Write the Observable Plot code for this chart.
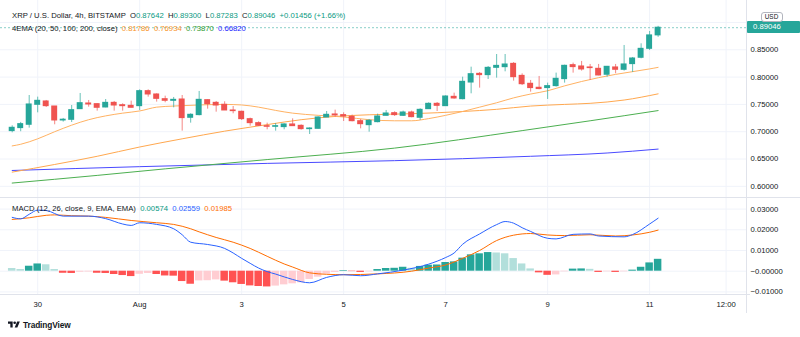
<!DOCTYPE html>
<html><head><meta charset="utf-8">
<script src="https://cdn.jsdelivr.net/npm/d3@7"></script>
<script src="https://cdn.jsdelivr.net/npm/@observablehq/plot@0.6"></script>
<style>
body{margin:0;background:#fff;font-family:"Liberation Sans",Arial,sans-serif;}
#wrap{position:relative;width:800px;height:337px;overflow:hidden;background:#fff;}
.abs{position:absolute;}
.leg{position:absolute;left:12px;font-size:7.7px;color:#131722;white-space:pre;line-height:1;}
.line{position:absolute;background:#e0e3eb;}
</style></head><body><div id="wrap"></div>
<script>
// ---------- data ----------
const candleStart = "2021-07-29T12:00Z"; // 4h candles
const open  = [0.7011,0.7066,0.7127,0.7493,0.7554,0.7462,0.7206,0.7218,0.7413,0.7517,0.7505,0.7444,0.7529,0.7486,0.7474,0.7468,0.7743,0.7682,0.7596,0.7566,0.7590,0.7255,0.7304,0.7578,0.7529,0.7493,0.7389,0.7365,0.7230,0.7157,0.7102,0.7090,0.7084,0.7133,0.7108,0.7047,0.7053,0.7261,0.7316,0.7304,0.7273,0.7193,0.7120,0.7175,0.7291,0.7340,0.7291,0.7352,0.7255,0.7413,0.7511,0.7468,0.7639,0.7596,0.7901,0.8060,0.8036,0.8170,0.8182,0.8243,0.8023,0.7878,0.7805,0.7799,0.7835,0.7963,0.8219,0.8195,0.8177,0.8152,0.8043,0.8177,0.8134,0.8238,0.8354,0.8518,0.87642];
const high  = [0.7108,0.7170,0.7663,0.7633,0.7572,0.7462,0.7243,0.7480,0.7700,0.7572,0.7511,0.7590,0.7554,0.7511,0.7560,0.7767,0.7767,0.7694,0.7651,0.7627,0.7663,0.7328,0.7737,0.7584,0.7554,0.7548,0.7462,0.7377,0.7249,0.7182,0.7157,0.7150,0.7145,0.7236,0.7126,0.7071,0.7273,0.7370,0.7395,0.7346,0.7304,0.7224,0.7224,0.7322,0.7389,0.7365,0.7377,0.7377,0.7420,0.7529,0.7535,0.7657,0.7706,0.7999,0.8182,0.8084,0.8194,0.8414,0.8414,0.8267,0.8060,0.7939,0.8012,0.7890,0.8073,0.8219,0.8256,0.8287,0.8232,0.8232,0.8195,0.8232,0.8579,0.8360,0.8610,0.8836,0.89300];
const low   = [0.6980,0.7000,0.7066,0.7346,0.7444,0.7127,0.7176,0.7169,0.7407,0.7450,0.7377,0.7438,0.7377,0.7377,0.7438,0.7389,0.7633,0.7542,0.7530,0.7438,0.7011,0.7157,0.7291,0.7413,0.7358,0.7389,0.7328,0.7206,0.7102,0.7096,0.7035,0.7010,0.7035,0.7102,0.7029,0.6949,0.7047,0.7261,0.7267,0.7187,0.7181,0.7053,0.6992,0.7163,0.7291,0.7279,0.7279,0.7255,0.7206,0.7407,0.7370,0.7462,0.7596,0.7584,0.7694,0.7798,0.7956,0.7981,0.8097,0.7926,0.7846,0.7725,0.7768,0.7591,0.7817,0.7890,0.8073,0.8110,0.7939,0.8024,0.7999,0.8061,0.8110,0.8085,0.8335,0.8488,0.87283];
const close = [0.7072,0.7139,0.7499,0.7566,0.7468,0.7206,0.7220,0.7395,0.7523,0.7499,0.7438,0.7529,0.7480,0.7468,0.7438,0.7743,0.7682,0.7602,0.7566,0.7584,0.7249,0.7310,0.7584,0.7505,0.7480,0.7389,0.7377,0.7230,0.7157,0.7108,0.7090,0.7102,0.7133,0.7102,0.7047,0.7059,0.7261,0.7310,0.7298,0.7279,0.7193,0.7138,0.7200,0.7279,0.7334,0.7304,0.7352,0.7267,0.7401,0.7511,0.7474,0.7645,0.7609,0.7914,0.8054,0.8036,0.8170,0.8206,0.8231,0.7999,0.7870,0.7799,0.7781,0.7835,0.7969,0.8207,0.8183,0.8140,0.8165,0.8030,0.8189,0.8134,0.8232,0.8341,0.8518,0.8764,0.89046];

// EMA readings: [candle index, value]
const ema20  = [[0,0.674],[1,0.677],[3,0.687],[5,0.700],[7,0.712],[9,0.722],[11,0.729],[13,0.734],[15,0.738],[17,0.745],[19,0.747],[22,0.749],[25,0.750],[27,0.749],[29,0.745],[31,0.739],[33,0.734],[36,0.730],[39,0.727],[42,0.722],[45,0.720],[47,0.720],[49,0.724],[51,0.730],[53,0.737],[55,0.745],[57,0.753],[59,0.762],[61,0.769],[63,0.775],[65,0.784],[67,0.792],[69,0.799],[71,0.805],[73,0.810],[75,0.815],[76,0.81786]];
const ema50  = [[0,0.626],[5,0.640],[10,0.655],[15,0.672],[20,0.687],[25,0.701],[30,0.713],[34,0.722],[38,0.728],[42,0.731],[47,0.733],[53,0.737],[57,0.741],[61,0.747],[65,0.750],[68,0.752],[72,0.758],[76,0.76934]];
const ema100 = [[0,0.606],[10,0.620],[18,0.632],[30,0.649],[45,0.670],[60,0.702],[68,0.720],[76,0.73870]];
const ema200 = [[0,0.629],[15,0.636],[30,0.642],[45,0.647],[61,0.655],[70,0.661],[76,0.66820]];

const histogram = [0.0013,0.0008,0.0024,0.0035,0.0031,0.0008,-0.0010,-0.0011,-0.0005,-0.0004,-0.0010,-0.0011,-0.0016,-0.0021,-0.0026,-0.0015,-0.0011,-0.0016,-0.0023,-0.0024,-0.0050,-0.0063,-0.0047,-0.0046,-0.0042,-0.0048,-0.0056,-0.0064,-0.0071,-0.0074,-0.0076,-0.0072,-0.0066,-0.0061,-0.0056,-0.0040,-0.0029,-0.0014,-0.0006,0.0003,-0.0002,-0.0006,-0.0003,0.0008,0.0013,0.0014,0.0019,0.0014,0.0023,0.0029,0.0030,0.0042,0.0045,0.0063,0.0079,0.0084,0.0090,0.0088,0.0084,0.0061,0.0035,0.0011,-0.0008,-0.0020,-0.0018,-0.0003,0.0010,0.0011,0.0009,-0.0006,-0.0003,-0.0006,-0.0003,0.0005,0.0019,0.0040,0.00574];
const macdLine = [[0,0.0260],[1,0.0253],[2,0.0275],[3,0.0295],[4,0.0293],[6,0.0266],[9,0.0266],[11,0.0254],[13,0.0228],[14,0.0221],[15,0.0234],[17,0.0226],[19,0.0205],[20,0.0176],[21,0.0140],[23,0.0129],[25,0.0110],[26,0.0088],[27,0.0062],[28,0.0038],[29,0.0015],[30,-0.0002],[31,-0.0014],[33,-0.0040],[35,-0.0056],[37,-0.0030],[39,-0.0017],[41,-0.0022],[43,-0.0013],[46,0.0005],[49,0.0034],[51,0.0066],[52,0.0088],[53,0.0130],[55,0.0180],[57,0.0225],[58,0.0240],[59,0.0232],[60,0.0210],[61,0.0192],[63,0.0159],[64,0.0156],[66,0.0178],[68,0.0180],[69,0.0170],[72,0.0166],[73,0.0177],[75,0.0228],[76,0.02559]];
const signalLine = [[0,0.0250],[2,0.0258],[4,0.0270],[5,0.0272],[7,0.0268],[9,0.0266],[11,0.0260],[14,0.0245],[17,0.0234],[19,0.0226],[21,0.0205],[22,0.0190],[24,0.0163],[26,0.0140],[28,0.0110],[30,0.0072],[32,0.0035],[33,0.0020],[35,-0.0008],[37,-0.0015],[39,-0.0017],[43,-0.0013],[47,0.0000],[49,0.0015],[51,0.0030],[53,0.0062],[55,0.0100],[57,0.0148],[59,0.0174],[61,0.0182],[63,0.0175],[65,0.0172],[68,0.0176],[71,0.0170],[73,0.0175],[75,0.0188],[76,0.01985]];

const priceGrid = [0.60,0.65,0.70,0.75,0.80,0.85,0.90];
const priceTicks = [0.60,0.65,0.70,0.75,0.80,0.85]; // 0.90000 label is hidden under the last-price tag
const macdTicks = [-0.01,0,0.01,0.02,0.03];
const timeTicks = ["2021-07-30T00:00Z","2021-08-01T00:00Z","2021-08-03T00:00Z","2021-08-05T00:00Z","2021-08-07T00:00Z","2021-08-09T00:00Z","2021-08-11T00:00Z","2021-08-12T12:00Z"];
const timeLabels = ["30","Aug","3","5","7","9","11","12:00"];

// ---------- build ----------
const H4 = 4*3600*1000;
const t0 = +new Date(candleStart);
const T = i => new Date(t0 + i*H4);
const xDomain = [T(-1.376), T(86.4)];
const ticksT = timeTicks.map(s => new Date(s));
const labelOf = new Map(ticksT.map((d,i)=>[+d, timeLabels[i]]));

const UP="#26a69a", DN="#ef5350";
const candles = open.map((o,i)=>({t:T(i), o, h:high[i], l:low[i], c:close[i], col: close[i]>=o?UP:DN}));
const pts = arr => arr.map(([i,v])=>({t:T(i), v}));
const hist = histogram.map((v,i)=>{
  const prev = i>0 ? histogram[i-1] : v;
  const col = v>=0 ? (v>prev ? "#26a69a" : "#b2dfdb") : (v<prev ? "#ff5252" : "#ffcdd2");
  return {t:T(i), v, col};
});
const font = {fontFamily:"'Liberation Sans', Arial, sans-serif", fontSize:"7.7px", background:"transparent", overflow:"visible"};
const grid = "#f0f3fa";

const main = Plot.plot({
  width:800, height:198, marginTop:0, marginBottom:0, marginLeft:0, marginRight:54,
  x:{type:"utc", domain:xDomain, axis:null},
  y:{domain:[0.5777,0.9403], axis:null},
  color:{type:"identity"},
  style:font,
  marks:[
    Plot.ruleY(priceGrid, {stroke:grid}),
    Plot.ruleX(ticksT, {stroke:grid}),
    Plot.ruleY([close[close.length-1]], {stroke:UP, strokeOpacity:0.55, strokeDasharray:"2,2"}),
    Plot.line(pts(ema200), {x:"t", y:"v", stroke:"#4a4aff", strokeWidth:1, curve:"monotone-x"}),
    Plot.line(pts(ema100), {x:"t", y:"v", stroke:"#4caf50", strokeWidth:1, curve:"monotone-x"}),
    Plot.line(pts(ema50), {x:"t", y:"v", stroke:"#ffa84f", strokeWidth:1, curve:"monotone-x"}),
    Plot.line(pts(ema20), {x:"t", y:"v", stroke:"#ffb263", strokeWidth:1, curve:"monotone-x"}),
    Plot.ruleX(candles, {x:"t", y1:"l", y2:"h", stroke:"col", strokeOpacity:0.7}),
    Plot.rect(candles, {x1:d=>new Date(+d.t-0.35*H4), x2:d=>new Date(+d.t+0.35*H4), y1:d=>Math.min(d.o,d.c), y2:d=>Math.max(d.o,d.c), fill:"col", insetTop:-0.5, insetBottom:-0.5}),
    Plot.axisY({anchor:"right", ticks:priceTicks, tickSize:0, tickPadding:4, tickFormat:d=>d.toFixed(5), fontSize:7.7, color:"#131722", label:null})
  ]
});

const macd = Plot.plot({
  width:800, height:118, marginTop:0, marginBottom:22, marginLeft:0, marginRight:54,
  x:{type:"utc", domain:xDomain, axis:null},
  y:{domain:[-0.01126,0.03512], axis:null},
  color:{type:"identity"},
  style:font,
  marks:[
    Plot.ruleY(macdTicks, {stroke:grid}),
    Plot.ruleX(ticksT, {stroke:grid}),
    Plot.rect(hist, {x1:d=>new Date(+d.t-0.5*H4), x2:d=>new Date(+d.t+0.5*H4), y1:0, y2:"v", fill:"col", insetLeft:0.5, insetRight:0.5}),
    Plot.line(pts(signalLine), {x:"t", y:"v", stroke:"#ff6d00", strokeWidth:1, curve:"monotone-x"}),
    Plot.line(pts(macdLine), {x:"t", y:"v", stroke:"#2962ff", strokeWidth:1, curve:"monotone-x"}),
    Plot.axisY({anchor:"right", ticks:macdTicks, tickSize:0, tickPadding:4, tickFormat:d=>(d<=0?"\u2212":"")+Math.abs(d).toFixed(5), fontSize:7.7, color:"#131722", label:null}),
    Plot.axisX({anchor:"bottom", ticks:ticksT, tickSize:0, tickPadding:7, tickFormat:d=>labelOf.get(+d), fontSize:7.7, color:"#131722", label:null})
  ]
});

const wrap = document.getElementById("wrap");
function place(el, top){ el.style.position="absolute"; el.style.left="0px"; el.style.top=top+"px"; wrap.appendChild(el); }
place(main, 0);
place(macd, 198);

function div(cls, css, html){ const d=document.createElement("div"); d.className=cls; d.style.cssText=css; if(html!=null) d.innerHTML=html; wrap.appendChild(d); return d; }
// pane borders
div("line","left:0;top:197px;width:800px;height:1px;");
div("line","left:0;top:294px;width:750px;height:1px;");
div("line","left:746px;top:0;width:1px;height:313px;");

const G="#089981";
div("leg","top:12px;", `XRP / U.S. Dollar, 4h, BITSTAMP  O<span style="color:${G}">${open[76].toFixed(5)}</span>  H<span style="color:${G}">${high[76].toFixed(5)}</span>  L<span style="color:${G}">${low[76].toFixed(5)}</span>  C<span style="color:${G}">${close[76].toFixed(5)}</span>  <span style="color:${G}">+0.01456 (+1.66%)</span>`);
div("leg","top:24.8px;", `4EMA (20, 50, 100, 200, close)  <span style="color:#f7931e">${ema20[ema20.length-1][1].toFixed(5)}</span>  <span style="color:#f7931e">${ema50[ema50.length-1][1].toFixed(5)}</span>  <span style="color:#2e9a2e">${ema100[ema100.length-1][1].toFixed(5)}</span>  <span style="color:#2424ff">${ema200[ema200.length-1][1].toFixed(5)}</span>`);
div("leg","top:205px;", `MACD (12, 26, close, 9, EMA, EMA)  <span style="color:${G}">${histogram[76].toFixed(5)}</span>  <span style="color:#2962ff">${macdLine[macdLine.length-1][1].toFixed(5)}</span>  <span style="color:#ff6d00">${signalLine[signalLine.length-1][1].toFixed(5)}</span>`);

// last price label and currency tag
div("abs","left:747px;top:20.8px;width:53px;height:12px;background:#26a69a;border-radius:1px;color:#fff;font-size:7.7px;line-height:12px;padding-left:6px;box-sizing:border-box;", close[76].toFixed(5));
div("abs","left:760.5px;top:11.5px;width:20px;height:8px;background:#fff;border:1px solid #b2b5be;border-radius:3px;color:#131722;font-size:6.4px;line-height:8px;text-align:center;box-sizing:content-box;", "USD");

// TradingView logo
div("abs","left:8px;top:320px;height:10px;display:flex;align-items:center;gap:3px;",
 `<svg width="12" height="9.5" viewBox="0 0 36 28"><path d="M14 22H7V11H0V4h14v18z" fill="#131722"/><circle cx="20" cy="8" r="4" fill="#131722"/><path d="M28 22h-8l7.5-18h8L28 22z" fill="#131722"/></svg><span style="font-size:8.3px;font-weight:bold;color:#131722;letter-spacing:-0.1px;">TradingView</span>`);
</script></body></html>
